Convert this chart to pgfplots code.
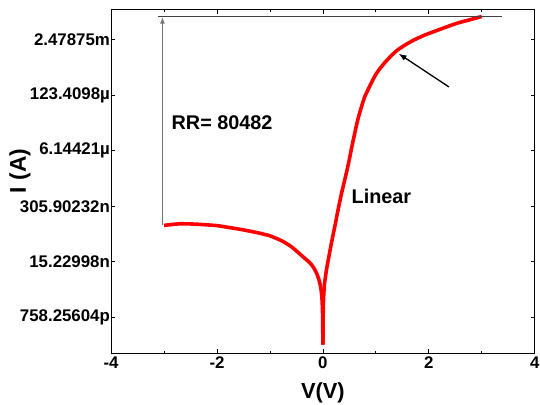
\documentclass[border=0pt]{standalone}
\usepackage{pgfplots}
\pgfplotsset{compat=1.18}
\usetikzlibrary{arrows.meta}
\usepackage{fontspec}
\setmainfont{Liberation Sans}
\begin{document}
\begin{tikzpicture}
\begin{axis}[
  scale only axis, width=426bp, height=345.3bp,
  xmin=-4, xmax=4,
  ymode=log, ymin=1.089e-10, ymax=1.265e-2,
  xtick={-4,-2,0,2,4}, xticklabels={-4,-2,0,2,4},
  minor x tick num=1,
  ytick={7.58256e-10,1.52300e-8,3.05902e-7,6.14421e-6,1.23410e-4,2.47875e-3},
  yticklabels={758.25604p,15.22998n,305.90232n,6.14421µ,123.4098µ,2.47875m},
  tick align=inside, major tick length=4bp, minor tick length=2.5bp,
  axis line style={line width=1.1bp},
  every tick/.style={black, line width=0.8bp},
  ticklabel style={font=\fontsize{17}{20}\selectfont\bfseries},
  yticklabel style={inner xsep=1bp},
  xlabel={V(V)}, ylabel={I (A)},
  xlabel style={font=\fontsize{22}{26}\selectfont\bfseries,
    at={(axis description cs:0.5,-0.116)}, anchor=center},
  ylabel style={font=\fontsize{23}{27}\selectfont\bfseries,
    at={(axis description cs:-0.215,0.53)}, anchor=center},
  clip=false,
]
% I-V sweep, reverse branch
\addplot[red, line width=3.6bp, line join=round, smooth, tension=0.3] coordinates {
  (-3.00,1.0858e-7) (-2.70,1.1831e-7) (-2.40,1.1596e-7) (-2.00,1.0705e-7)
  (-1.71,9.400e-8) (-1.50,8.505e-8) (-1.21,7.175e-8) (-1.00,6.176e-8)
  (-0.77,4.668e-8) (-0.60,3.458e-8) (-0.46,2.4613e-8) (-0.35,1.8602e-8)
  (-0.25,1.4487e-8) (-0.18,1.1283e-8) (-0.12,8.193e-9) (-0.07,5.4919e-9)
  (-0.035,3.3983e-9) (-0.015,1.8650e-9) (-0.006,8.380e-10) (0.00,1.7089e-10)
};
% I-V sweep, forward branch
\addplot[red, line width=3.6bp, line join=round, smooth, tension=0.3] coordinates {
  (0.00,1.7089e-10) (0.005,8.380e-10) (0.012,2.06115e-9) (0.03,4.5872e-9)
  (0.071,1.0520e-8) (0.12,2.2271e-8) (0.165,4.4401e-8) (0.23,1.1031e-7)
  (0.29,2.6594e-7) (0.35,5.9780e-7) (0.416,1.3304e-6) (0.47,2.5741e-6)
  (0.509,4.4616e-6) (0.571,1.0649e-5) (0.665,3.5357e-5) (0.79,1.1392e-4)
  (0.978,3.4224e-4) (1.07,5.1056e-4) (1.165,7.1017e-4) (1.29,1.0489e-3)
  (1.414,1.4445e-3) (1.57,1.9305e-3) (1.727,2.47875e-3) (1.91,3.1511e-3)
  (2.101,3.8874e-3) (2.32,4.8927e-3) (2.537,6.0967e-3) (2.77,7.2991e-3)
  (3.00,8.7387e-3)
};
% rectification ratio marker
\draw[black!75, line width=1bp] (axis cs:-3.12,8.7387e-3) -- (axis cs:3.38,8.7387e-3);
\draw[black!55, line width=1.2bp, -{Latex[length=7bp,width=5bp]}]
  (axis cs:-3.03,1.0858e-7) -- (axis cs:-3.03,8.6e-3);
\draw[black, line width=1.3bp, -{Latex[length=8bp,width=6bp]}]
  (axis cs:2.38,1.9355e-4) -- (axis cs:1.43,1.1709e-3);
\node[anchor=west, font=\fontsize{20}{24}\selectfont\bfseries, inner sep=0pt]
  at (axis cs:-2.86,2.809e-5) {RR= 80482};
\node[anchor=west, font=\fontsize{20}{24}\selectfont\bfseries, inner sep=0pt]
  at (axis cs:0.539,5.094e-7) {Linear};
\end{axis}
\pgfresetboundingbox
\path ([shift={(-111.7bp,-52bp)}]current axis.south west)
  rectangle ([shift={(5.3bp,9.7bp)}]current axis.north east);
\end{tikzpicture}
\end{document}
